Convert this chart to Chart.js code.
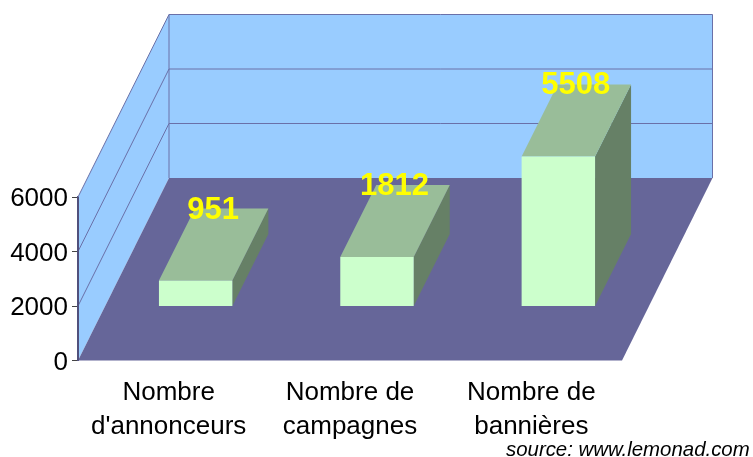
<!DOCTYPE html>
<html>
<head>
<meta charset="utf-8">
<title>lemonad</title>
<style>
  html, body { margin: 0; padding: 0; background: #fff; }
  canvas { display: block; }
</style>
<script src="https://cdn.jsdelivr.net/npm/chart.js@4/dist/chart.umd.min.js"></script>
</head>
<body>
<canvas id="chart" width="753" height="457"></canvas>
<script>
// Data
const categories = [['Nombre', "d'annonceurs"], ['Nombre de', 'campagnes'], ['Nombre de', 'bannières']];
const values = [951, 1812, 5508];
const yTicks = [0, 2000, 4000, 6000];
const sourceText = 'source: www.lemonad.com';

// Fake 3D: how far the back wall and the bars sit from the front plane
const WALL_DX = 91, WALL_DY = -182.5;
const BAR_SHIFT_X = 27, BAR_SHIFT_Y = -54;
const BAR_DX = 36, BAR_DY = -72;

const FONT = '"Liberation Sans", Arial, sans-serif';
const WALL = '#99ccff', FLOOR = '#666699', GRID = '#6a70a8', AXIS = '#50507c';
const BAR_FRONT = '#ccffcc', BAR_TOP = '#99bd99', BAR_SIDE = '#668066';

function poly(ctx, pts, fill) {
  ctx.beginPath();
  pts.forEach((p, i) => i ? ctx.lineTo(p[0], p[1]) : ctx.moveTo(p[0], p[1]));
  ctx.closePath();
  ctx.fillStyle = fill;
  ctx.fill();
}

function line(ctx, x1, y1, x2, y2, color = GRID, width = 1) {
  ctx.beginPath();
  ctx.moveTo(x1, y1);
  ctx.lineTo(x2, y2);
  ctx.strokeStyle = color;
  ctx.lineWidth = width;
  ctx.stroke();
}

const box3d = {
  id: 'box3d',
  beforeDatasetsDraw(chart) {
    const ctx = chart.ctx, a = chart.chartArea, y = chart.scales.y;
    const l = a.left, r = a.right, t = y.getPixelForValue(6000), b = y.getPixelForValue(0);
    const bx = l + WALL_DX, brx = r + WALL_DX - 0.5, bt = t + WALL_DY, bb = b + WALL_DY;

    // walls and floor
    ctx.save();
    poly(ctx, [[l, b], [bx, bb], [bx, bt], [l, t]], WALL);
    poly(ctx, [[bx, bb], [brx, bb], [brx, bt], [bx, bt]], WALL);
    yTicks.slice(1).forEach(v => {
      const p = y.getPixelForValue(v);
      line(ctx, l, p, bx, p + WALL_DY);
      line(ctx, bx, p + WALL_DY, brx, p + WALL_DY);
    });
    line(ctx, bx, bt, bx, bb);
    line(ctx, brx, bt, brx, bb);
    poly(ctx, [[l, b], [r, b], [brx, bb], [bx, bb]], FLOOR);
    line(ctx, l, t, l, b, AXIS, 2);

    // top and side of each bar, the front comes from the library
    chart.getDatasetMeta(0).data.forEach(bar => {
      const x1 = bar.x - bar.width / 2 + BAR_SHIFT_X, x2 = bar.x + bar.width / 2 + BAR_SHIFT_X;
      const top = bar.y + BAR_SHIFT_Y, base = bar.base + BAR_SHIFT_Y;
      poly(ctx, [[x2, base], [x2 + BAR_DX, base + BAR_DY], [x2 + BAR_DX, top + BAR_DY], [x2, top]], BAR_SIDE);
      poly(ctx, [[x1, top], [x2, top], [x2 + BAR_DX, top + BAR_DY], [x1 + BAR_DX, top + BAR_DY]], BAR_TOP);
    });
    ctx.restore();

    // front faces get drawn by Chart.js, moved onto the floor
    ctx.save();
    ctx.translate(BAR_SHIFT_X, BAR_SHIFT_Y);
  },
  afterDatasetsDraw(chart) {
    const ctx = chart.ctx;
    ctx.restore();

    // value labels
    ctx.save();
    ctx.font = 'bold 31px ' + FONT;
    ctx.fillStyle = '#ffff00';
    ctx.textAlign = 'center';
    ctx.textBaseline = 'alphabetic';
    chart.getDatasetMeta(0).data.forEach((bar, i) => {
      ctx.fillText(String(values[i]), bar.x + BAR_SHIFT_X + BAR_DX / 2 - 0.5, bar.y + BAR_SHIFT_Y + BAR_DY + 10);
    });
    ctx.font = 'italic 20.4px ' + FONT;
    ctx.fillStyle = '#000';
    ctx.textAlign = 'left';
    ctx.fillText(sourceText, 506, 456);
    ctx.restore();
  }
};

new Chart(document.getElementById('chart'), {
  type: 'bar',
  data: {
    labels: categories,
    datasets: [{ data: values, backgroundColor: BAR_FRONT, borderWidth: 0, clip: false, categoryPercentage: 1, barPercentage: 0.405 }]
  },
  options: {
    responsive: false,
    animation: false,
    layout: { padding: { top: 197, right: 131, left: 0, bottom: 0 } },
    plugins: { legend: { display: false }, tooltip: { enabled: false } },
    scales: {
      x: {
        afterFit(s) { s.height = 96.5; },
        grid: { display: false },
        border: { display: false },
        ticks: { color: '#000', font: { family: FONT, size: 26, lineHeight: 1.31 }, maxRotation: 0, autoSkip: false, padding: 7 }
      },
      y: {
        min: 0,
        max: 6000,
        afterFit(s) { s.width = 78; },
        afterBuildTicks(s) { s.ticks = yTicks.map(v => ({ value: v })); },
        grid: { drawOnChartArea: false, tickLength: 6, color: '#444' },
        border: { color: AXIS, width: 2 },
        ticks: { color: '#000', font: { family: FONT, size: 26 }, padding: 4, labelOffset: 2, callback: v => String(v) }
      }
    }
  },
  plugins: [box3d]
});
</script>
</body>
</html>
